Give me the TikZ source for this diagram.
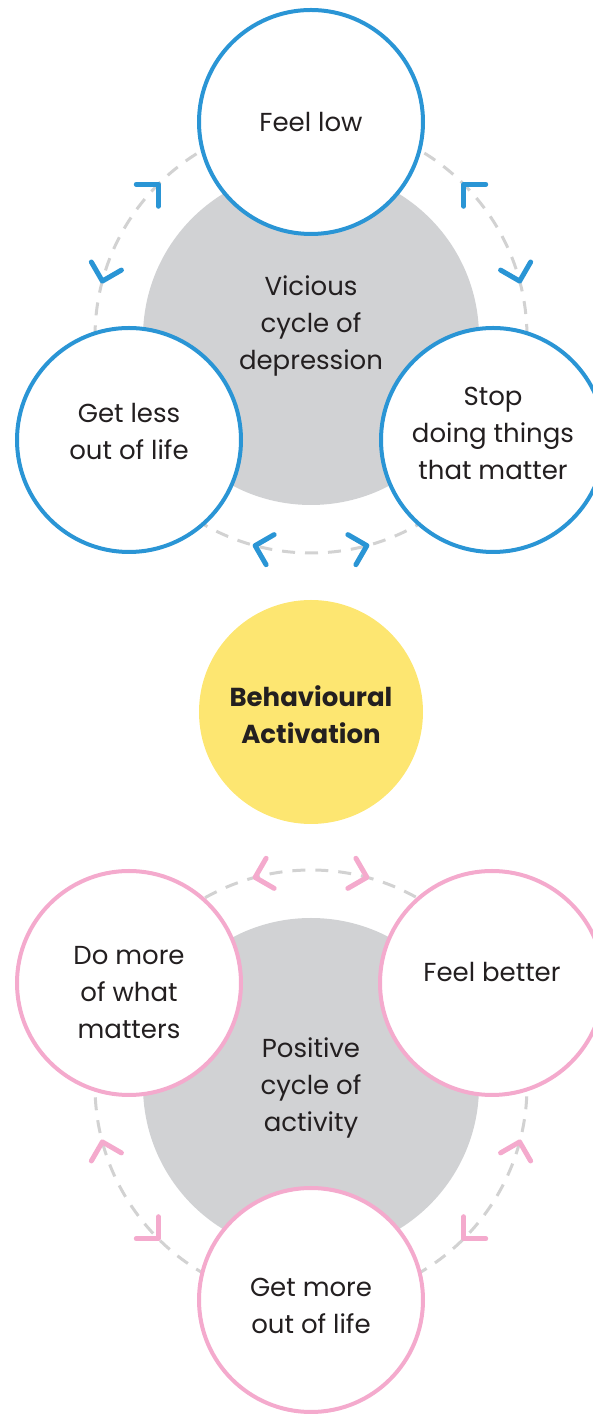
\documentclass[tikz,border=0pt]{standalone}
\usepackage{fontspec}
\setmainfont{Poppins}
\usepackage{tikz}
\definecolor{cycleblue}{HTML}{2A95D5}
\definecolor{cyclepink}{HTML}{F4AACD}
\definecolor{bayellow}{HTML}{FDE671}
\definecolor{hubgray}{HTML}{D1D2D4}
\definecolor{ringgray}{HTML}{D2D2D2}
\definecolor{inkdark}{HTML}{231F20}

\begin{document}
\begin{tikzpicture}[x=1pt,y=1pt,font=\fontsize{26}{37}\selectfont,
    stage/.style={circle,draw,line width=4pt,fill=white,minimum size=224pt,inner sep=0pt},
    hub/.style={circle,fill=hubgray,minimum size=336pt,inner sep=0pt},
    every label/.style={align=center,text=inkdark},
    ring/.style={draw=ringgray,line width=3pt,dash pattern=on 13pt off 10pt},
    chev/.style={line width=5pt,line cap=round,line join=round}]
  \clip (0,0) rectangle (593,1414);

  % vicious cycle
  \coordinate (vc) at (311,1077);
  \node[hub,label={[yshift=11pt]center:Vicious\\cycle of\\depression}] (vhub) at (vc) {};
  \draw[ring] (vc) circle[radius=216];
  \foreach \a in {90,210,330} {
    \draw[chev,cycleblue,shift={(vc)}] (\a+45:216) +(\a+90:22) -- +(0,0) -- +(\a-180:22);
    \draw[chev,cycleblue,shift={(vc)}] (\a-45:216) +(\a+180:22) -- +(0,0) -- +(\a-90:22);
  }
  \node[stage,draw=cycleblue,label={center:Feel low}] (low) at (311,1292) {};
  \node[stage,draw=cycleblue,label={[yshift=8pt]center:Get less\\out of life}] (less) at (129,974) {};
  \node[stage,draw=cycleblue,label={[yshift=7pt]center:Stop\\doing things\\that matter}] (stop) at (493,974) {};

  \node[circle,fill=bayellow,minimum size=224pt,inner sep=0pt,
    label={[yshift=-3pt,font=\fontsize{26}{37}\selectfont\bfseries]center:Behavioural\\Activation}] (ba) at (311,702) {};

  % positive cycle
  \coordinate (pc) at (311,328);
  \node[hub,label={[yshift=-2pt]center:Positive\\cycle of\\activity}] (phub) at (pc) {};
  \draw[ring] (pc) circle[radius=216];
  \foreach \a in {150,30,270} {
    \draw[chev,cyclepink,shift={(pc)}] (\a+45:216) +(\a+90:22) -- +(0,0) -- +(\a-180:22);
    \draw[chev,cyclepink,shift={(pc)}] (\a-45:216) +(\a+180:22) -- +(0,0) -- +(\a-90:22);
  }
  \node[stage,draw=cyclepink,label={[yshift=-10pt]center:Do more\\of what\\matters}] (domore) at (129,431) {};
  \node[stage,draw=cyclepink,label={[yshift=11pt]center:Feel better}] (better) at (492,431) {};
  \node[stage,draw=cyclepink,label={[yshift=-6pt]center:Get more\\out of life}] (getmore) at (311,114) {};
\end{tikzpicture}
\end{document}
